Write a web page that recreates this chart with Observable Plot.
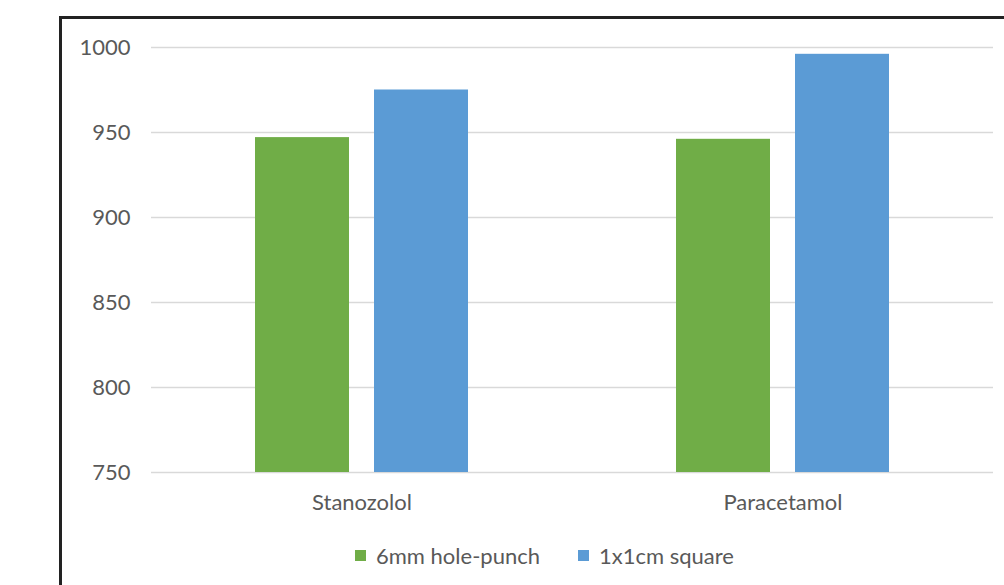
<!DOCTYPE html>
<html>
<head>
<meta charset="utf-8">
<script src="https://cdn.jsdelivr.net/npm/d3@7"></script>
<script src="https://cdn.jsdelivr.net/npm/@observablehq/plot@0.6"></script>
<style>
  html, body { margin: 0; padding: 0; background: #fff; overflow: hidden; width: 1004px; height: 585px; }
  #frame { position: absolute; left: 59px; top: 16px; width: 1100px; height: 800px; border: 3px solid #222; box-sizing: border-box; }
  #chart { position: absolute; left: 0; top: 0; }
  #legend { position: absolute; left: 355px; top: 542px; display: flex; align-items: center; font-family: Lato, sans-serif; font-size: 22px; color: #595959; white-space: nowrap; }
  .sw { width: 11px; height: 11px; display: inline-block; margin-right: 10px; }
  .item { display: flex; align-items: center; margin-right: 38px; }
</style>
</head>
<body>
<div id="frame"></div>
<div id="chart"></div>
<div id="legend"></div>
<script>
const categories = ["Stanozolol", "Paracetamol"];
const series = ["6mm hole-punch", "1x1cm square"];
const holePunch = [947, 946];
const square = [975, 996];
const yTicks = [750, 800, 850, 900, 950, 1000];
const colors = ["#70AD47", "#5B9BD5"];

const data = categories.flatMap((c, i) => [
  {category: c, series: series[0], value: holePunch[i]},
  {category: c, series: series[1], value: square[i]}
]);

const chart = Plot.plot({
  width: 1004,
  height: 530,
  marginLeft: 150,
  marginRight: 11,
  marginTop: 47,
  marginBottom: 58,
  style: {background: "transparent", fontFamily: "Lato, sans-serif", fontSize: "22px", color: "#595959"},
  facet: {data, x: "category"},
  fx: {domain: categories, padding: 0, axis: "bottom", tickSize: 0, tickPadding: 22, label: null},
  x: {domain: series, paddingInner: 0.207, paddingOuter: 0.868, axis: null},
  y: {domain: [750, 1000], ticks: 5, tickSize: 0, tickPadding: 21, label: null, tickFormat: d3.format("d")},
  color: {domain: series, range: colors},
  marks: [
    Plot.ruleY(yTicks, {stroke: "#d9d9d9", strokeWidth: 1.5}),
    Plot.barY(data, {x: "series", y1: 750, y2: "value", fill: "series"})
  ]
});
document.getElementById("chart").appendChild(chart);

const legend = document.getElementById("legend");
series.forEach((s, i) => {
  const item = document.createElement("span");
  item.className = "item";
  const sw = document.createElement("span");
  sw.className = "sw";
  sw.style.background = colors[i];
  item.appendChild(sw);
  item.appendChild(document.createTextNode(s));
  legend.appendChild(item);
});
</script>
</body>
</html>
